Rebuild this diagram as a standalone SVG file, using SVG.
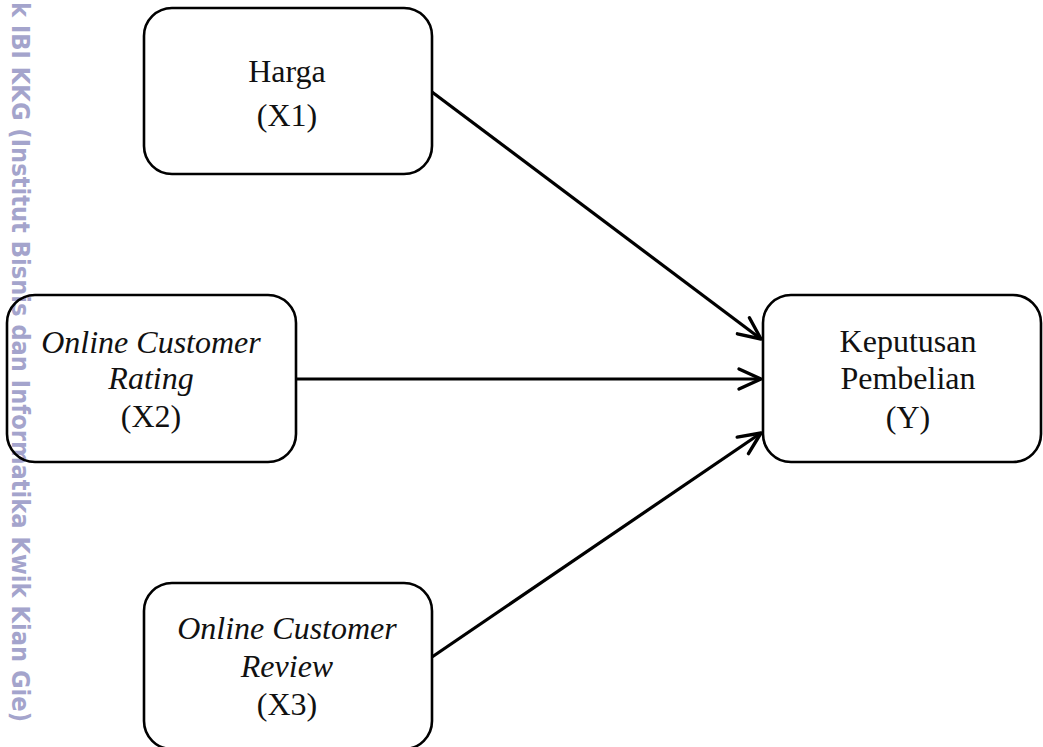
<svg xmlns="http://www.w3.org/2000/svg" width="1043" height="747" viewBox="0 0 1043 747">
<style>
.box{fill:none;stroke:#000;stroke-width:2.6}
.t{font-family:"Liberation Serif","Times New Roman",serif;font-size:32px;fill:#111;text-anchor:middle}
.i{font-style:italic}
.con line{stroke:#000;stroke-width:3.2;marker-end:url(#arr)}
.wm{font-family:"DejaVu Sans",sans-serif;font-weight:bold;font-size:25px;fill:#a4a4cc}
</style>
<defs>
<marker id="arr" markerUnits="userSpaceOnUse" markerWidth="30" markerHeight="30" refX="0" refY="0" viewBox="-26 -13 30 26" orient="auto">
<path d="M-22,-10 L0,0 L-22,10" fill="none" stroke="#000" stroke-width="3.4" stroke-linecap="round" stroke-linejoin="round"/>
</marker>
</defs>
<rect width="1043" height="747" fill="#fff"/>
<g id="watermark">
<text class="wm" transform="translate(12,2) rotate(90)" x="0" y="0" textLength="720" lengthAdjust="spacingAndGlyphs">k IBI KKG (Institut Bisnis dan Informatika Kwik Kian Gie)</text>
</g>
<g class="con" id="connectors">
<line x1="432" y1="92" x2="761" y2="339"/>
<line x1="296" y1="379" x2="761" y2="379"/>
<line x1="432" y1="657" x2="761" y2="433"/>
</g>
<g id="x1">
<rect class="box" x="144" y="8" width="288" height="166" rx="28"/>
<text class="t" x="287" y="82">Harga</text>
<text class="t" x="287" y="126">(X1)</text>
</g>
<g id="x2">
<rect class="box" x="7" y="295" width="289" height="167" rx="28"/>
<text class="t i" x="151" y="353">Online Customer</text>
<text class="t i" x="151" y="389">Rating</text>
<text class="t" x="151" y="427">(X2)</text>
</g>
<g id="y">
<rect class="box" x="763" y="295" width="278" height="167" rx="28"/>
<text class="t" x="908" y="352">Keputusan</text>
<text class="t" x="908" y="389">Pembelian</text>
<text class="t" x="908" y="428">(Y)</text>
</g>
<g id="x3">
<rect class="box" x="144" y="583" width="288" height="166" rx="28"/>
<text class="t i" x="287" y="639">Online Customer</text>
<text class="t i" x="287" y="677">Review</text>
<text class="t" x="287" y="715">(X3)</text>
</g>
</svg>
